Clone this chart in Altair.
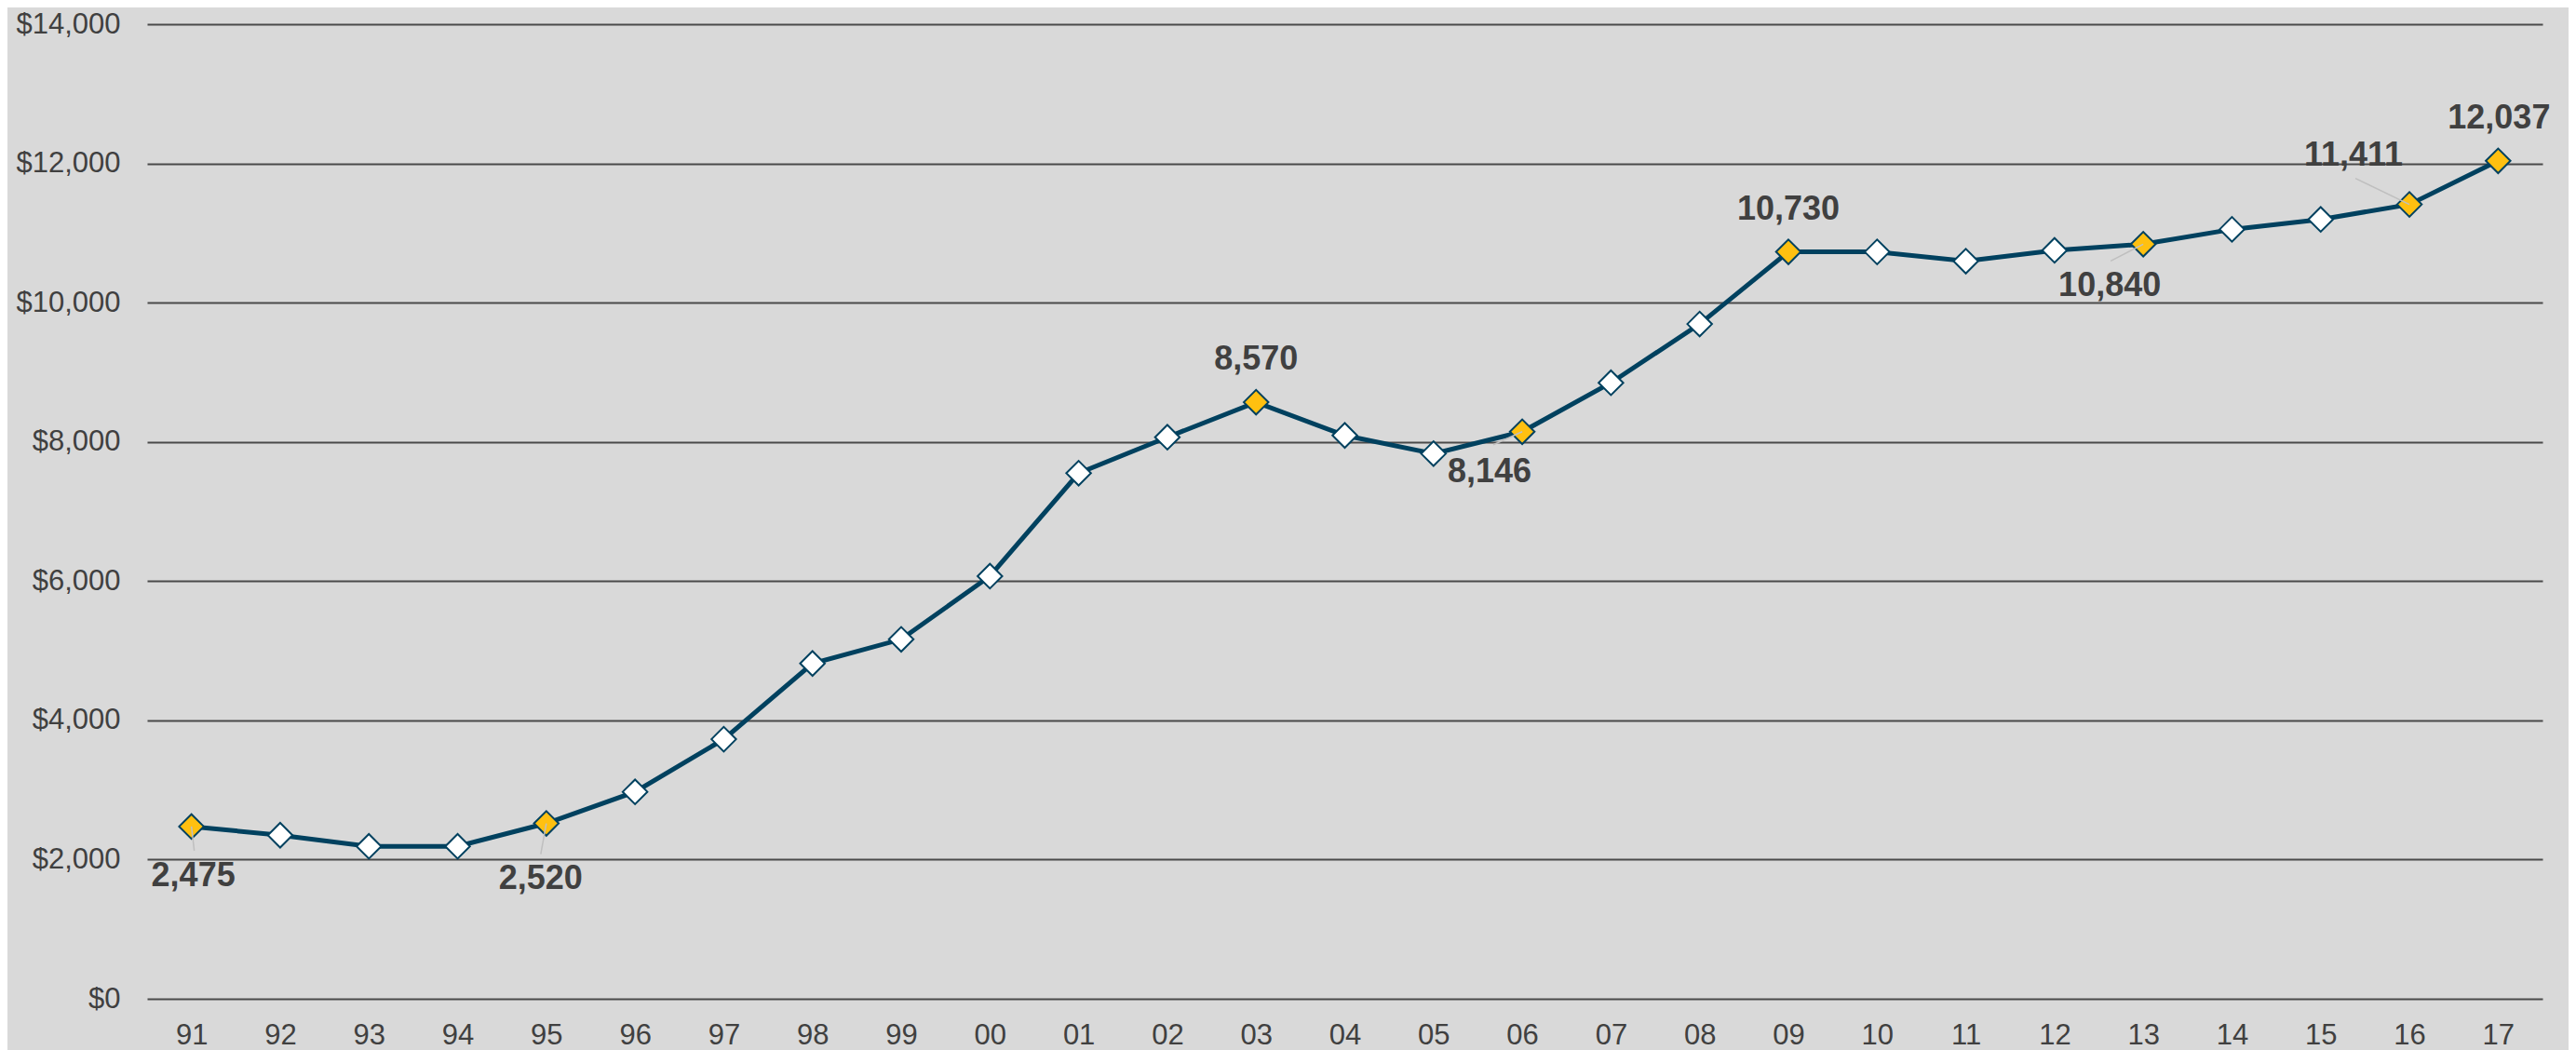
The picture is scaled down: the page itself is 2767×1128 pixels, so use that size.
import altair as alt
import pandas as pd

years = ["91", "92", "93", "94", "95", "96", "97", "98", "99", "00", "01", "02", "03",
         "04", "05", "06", "07", "08", "09", "10", "11", "12", "13", "14", "15", "16", "17"]
values = [2475, 2350, 2190, 2190, 2520, 2973, 3729, 4817, 5164, 6071, 7551, 8067, 8570,
          8093, 7831, 8146, 8849, 9693, 10730, 10729, 10596, 10751, 10840, 11053, 11196, 11411, 12037]
highlight_years = ["91", "95", "03", "06", "09", "13", "16", "17"]

# label placement (pixel offsets from the point), styling only
label_offsets = {
    "91": (2, 53), "95": (-6, 59), "03": (0, -46), "06": (-35, 43),
    "09": (0, -46), "13": (-36, 45), "16": (-60, -53), "17": (1, -46),
}
leader_offsets = {
    "91": (3, 26), "95": (-6, 33), "06": (-31, 14), "13": (-35, 18), "16": (-58, -28),
}

df = pd.DataFrame({
    "year": years,
    "value": values,
    "hl": ["y" if y in highlight_years else "n" for y in years],
})

NAVY = "#00415F"
GOLD = "#FFC010"
TEXT = "#404040"
FONT = "Liberation Sans"

x_enc = alt.X("year:N", sort=years, title=None,
              scale=alt.Scale(type="point", padding=0.5),
              axis=alt.Axis(labelAngle=0, labelFontSize=31, labelColor=TEXT, labelFont=FONT,
                            ticks=False, tickSize=0, domain=False, grid=False, labelPadding=24))
y_enc = alt.Y("value:Q", title=None,
              scale=alt.Scale(domain=[0, 14000], nice=False, zero=True),
              axis=alt.Axis(values=list(range(0, 14001, 2000)), format="$,.0f",
                            labelFontSize=31, labelColor=TEXT, labelFont=FONT,
                            ticks=False, tickSize=0, domain=False, labelPadding=29,
                            grid=True, gridColor="#4A4A4A", gridWidth=2))

base = alt.Chart(df)

line = base.mark_line(color=NAVY, strokeWidth=5).encode(x=x_enc, y=y_enc)

points = base.mark_point(shape="diamond", size=700, filled=True, stroke=NAVY,
                         strokeWidth=2, opacity=1).encode(
    x=alt.X("year:N", sort=years),
    y="value:Q",
    fill=alt.Fill("hl:N", scale=alt.Scale(domain=["y", "n"], range=[GOLD, "#FFFFFF"]),
                  legend=None),
)

layers = [line, points]

for yr, (ox, oy) in leader_offsets.items():
    layers.append(
        base.transform_filter(alt.datum.year == yr).mark_rule(
            color="#BFBFBF", strokeWidth=1.5, x2Offset=ox, y2Offset=oy
        ).encode(
            x=alt.X("year:N", sort=years), x2="year:N",
            y="value:Q", y2="value:Q",
        )
    )

for yr, (dx, dy) in label_offsets.items():
    layers.append(
        base.transform_filter(alt.datum.year == yr).mark_text(
            font=FONT, fontSize=36, fontWeight="bold", color=TEXT,
            align="center", baseline="middle", dx=dx, dy=dy
        ).encode(
            x=alt.X("year:N", sort=years),
            y="value:Q",
            text=alt.Text("value:Q", format=","),
        )
    )

chart = alt.layer(*layers).properties(
    width=2573,
    height=1047,
    autosize=alt.AutoSizeParams(type="none"),
    padding={"left": 150, "top": 18, "right": 28, "bottom": 55},
    background="#D9D9D9",
).configure_view(stroke=None, fill="#D9D9D9")

chart.save("out.html", embed_options={"renderer": "svg", "actions": False})
